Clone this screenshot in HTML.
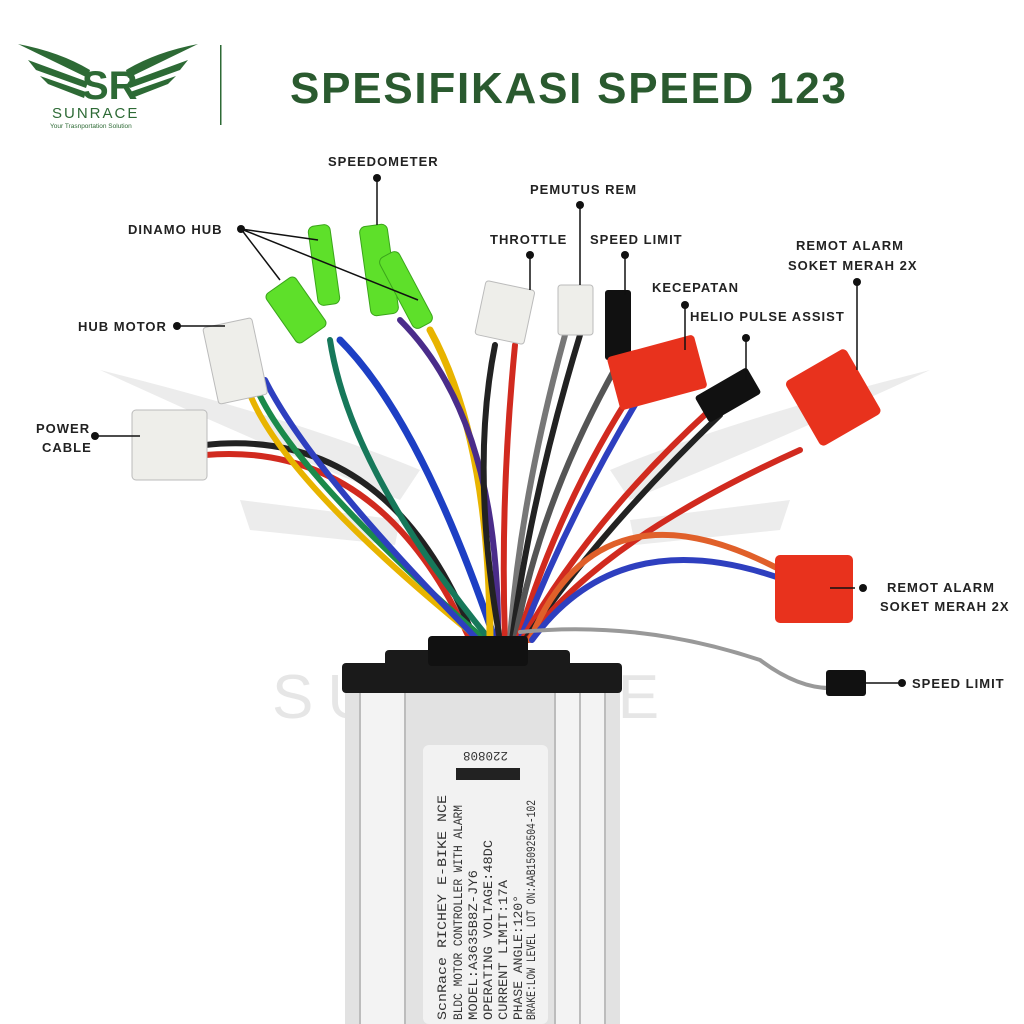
<!DOCTYPE html>
<html><head><meta charset="utf-8"><style>
html,body{margin:0;padding:0;background:#fff}
svg{display:block}
.l{font-family:"Liberation Sans",sans-serif;font-weight:bold;font-size:13px;fill:#222;letter-spacing:1px}
.m{font-family:"Liberation Mono",monospace;font-size:12.5px;fill:#333}
</style></head><body>
<svg width="1024" height="1024" viewBox="0 0 1024 1024" xmlns="http://www.w3.org/2000/svg">
<g fill="#ececec">
<path d="M100 370 Q300 420 420 470 L400 500 Q250 440 100 370Z"/>
<path d="M930 370 Q730 420 610 470 L630 500 Q780 440 930 370Z"/>
<path d="M240 500 L400 520 L395 545 L250 530Z"/>
<path d="M790 500 L630 520 L635 545 L780 530Z"/>
</g>
<text x="272" y="718" font-family="Liberation Sans,sans-serif" font-size="62" fill="#e6e6e6" letter-spacing="14">SUNRACE</text>
<g fill="#2d6a35">
<path d="M18 44 Q60 52 90 70 L88 78 Q55 62 18 44Z"/>
<path d="M28 60 L88 82 L86 88 L36 70Z"/>
<path d="M40 76 L86 92 L84 98 L48 84Z"/>
<path d="M198 44 Q156 52 126 70 L128 78 Q161 62 198 44Z"/>
<path d="M188 60 L128 82 L130 88 L180 70Z"/>
<path d="M176 76 L130 92 L132 98 L168 84Z"/>
</g>
<text x="82" y="99" font-family="Liberation Sans,sans-serif" font-weight="bold" font-size="40" fill="#2d6a35">SR</text>
<text x="52" y="118" font-family="Liberation Sans,sans-serif" font-size="15" fill="#2d6a35" letter-spacing="2">SUNRACE</text>
<text x="50" y="128" font-family="Liberation Sans,sans-serif" font-size="6.5" fill="#2d6a35">Your Trasnportation Solution</text>
<rect x="220" y="45" width="1.5" height="80" fill="#2d6a35"/>
<text x="290" y="103" font-family="Liberation Sans,sans-serif" font-weight="bold" font-size="44" fill="#2a5a2f" letter-spacing="2" textLength="558">SPESIFIKASI SPEED 123</text>

<g fill="none" stroke-width="6" stroke-linecap="round">
<path d="M205 455 Q380 440 470 640" stroke="#d12a1f"/>
<path d="M205 445 Q390 425 475 640" stroke="#222"/>
<path d="M245 380 Q270 470 480 640" stroke="#e8b400"/>
<path d="M255 385 Q290 470 485 640" stroke="#1b8a4a"/>
<path d="M265 380 Q310 470 478 640" stroke="#2e3fbf"/>
<path d="M330 340 Q350 470 490 640" stroke="#17785a"/>
<path d="M340 340 Q420 420 495 640" stroke="#1d3fc4" stroke-width="7"/>
<path d="M430 330 Q490 440 490 640" stroke="#e8b400" stroke-width="7"/>
<path d="M400 320 Q500 420 498 640" stroke="#4a2c8a"/>
<path d="M495 345 Q470 470 500 640" stroke="#222"/>
<path d="M515 345 Q500 500 505 640" stroke="#d12a1f"/>
<path d="M565 335 Q520 500 510 640" stroke="#777"/>
<path d="M580 335 Q530 500 512 640" stroke="#222"/>
<path d="M620 360 Q540 500 515 640" stroke="#555"/>
<path d="M640 380 Q560 500 518 640" stroke="#d12a1f"/>
<path d="M650 380 Q570 510 520 640" stroke="#2e3fbf"/>
<path d="M710 410 Q590 520 522 640" stroke="#d12a1f"/>
<path d="M720 415 Q600 530 525 640" stroke="#222"/>
<path d="M800 450 Q600 540 528 640" stroke="#d12a1f"/>
<path d="M790 575 Q600 470 530 640" stroke="#e0602a"/>
<path d="M785 580 Q620 520 532 640" stroke="#2e3fbf"/>
<path d="M520 632 Q640 620 760 660 Q800 690 835 688" stroke="#999" stroke-width="4"/>
</g>
<g stroke="#bbb" stroke-width="1">
<rect x="132" y="410" width="75" height="70" rx="4" fill="#eeeeea"/>
<rect x="210" y="322" width="50" height="78" rx="3" fill="#eeeeea" transform="rotate(-12 235 360)"/>
<rect x="480" y="285" width="50" height="55" rx="3" fill="#eeeeea" transform="rotate(12 505 312)"/>
<rect x="558" y="285" width="35" height="50" rx="3" fill="#eeeeea"/>
</g>
<g fill="#5ee02a" stroke="#3aa51a">
<rect x="278" y="280" width="36" height="60" rx="5" transform="rotate(-35 296 310)"/>
<rect x="313" y="225" width="22" height="80" rx="6" transform="rotate(-8 324 265)"/>
<rect x="365" y="225" width="28" height="90" rx="6" transform="rotate(-8 379 270)"/>
<rect x="395" y="250" width="22" height="80" rx="6" transform="rotate(-28 406 290)"/>
</g>
<g fill="#111">
<rect x="605" y="290" width="26" height="70" rx="3"/>
<rect x="698" y="380" width="60" height="30" rx="3" transform="rotate(-30 728 395)"/>
<rect x="826" y="670" width="40" height="26" rx="3"/>
</g>
<g fill="#e8321d">
<rect x="612" y="345" width="90" height="55" rx="4" transform="rotate(-15 657 372)"/>
<rect x="798" y="360" width="70" height="75" rx="5" transform="rotate(-30 833 397)"/>
<rect x="775" y="555" width="78" height="68" rx="5"/>
</g>
<rect x="345" y="688" width="275" height="336" fill="#e2e2e2"/>
<g fill="#f3f3f3"><rect x="360" y="690" width="45" height="334"/><rect x="555" y="690" width="50" height="334"/></g>
<g stroke="#bcbcbc" stroke-width="2"><line x1="360" y1="690" x2="360" y2="1024"/><line x1="405" y1="690" x2="405" y2="1024"/><line x1="555" y1="690" x2="555" y2="1024"/><line x1="580" y1="690" x2="580" y2="1024"/><line x1="605" y1="690" x2="605" y2="1024"/></g>
<rect x="342" y="663" width="280" height="30" rx="4" fill="#1a1a1a"/>
<rect x="385" y="650" width="185" height="20" rx="4" fill="#1a1a1a"/>
<rect x="428" y="636" width="100" height="30" rx="4" fill="#111"/>
<rect x="423" y="745" width="125" height="279" rx="6" fill="#f2f2f2"/>
<text class="m" transform="translate(508 752) rotate(180)">220808</text>
<rect x="456" y="768" width="64" height="12" fill="#222"/>
<text class="m" font-size="15" textLength="225" lengthAdjust="spacingAndGlyphs" transform="translate(446 1020) rotate(-90)">ScnRace  RICHEY E-BIKE NCE</text>
<text class="m" textLength="215" lengthAdjust="spacingAndGlyphs" transform="translate(462 1020) rotate(-90)">BLDC MOTOR CONTROLLER WITH ALARM</text>
<text class="m" font-size="14" textLength="150" lengthAdjust="spacingAndGlyphs" transform="translate(477 1020) rotate(-90)">MODEL:A3635B8Z-JY6</text>
<text class="m" font-size="14" textLength="180" lengthAdjust="spacingAndGlyphs" transform="translate(492 1020) rotate(-90)">OPERATING VOLTAGE:48DC</text>
<text class="m" font-size="14" textLength="140" lengthAdjust="spacingAndGlyphs" transform="translate(507 1020) rotate(-90)">CURRENT LIMIT:17A</text>
<text class="m" font-size="14" textLength="125" lengthAdjust="spacingAndGlyphs" transform="translate(522 1020) rotate(-90)">PHASE ANGLE:120°</text>
<text class="m" font-size="11" textLength="220" lengthAdjust="spacingAndGlyphs" transform="translate(535 1020) rotate(-90)">BRAKE:LOW LEVEL LOT ON:AAB15092504-102</text>
<g stroke="#111" stroke-width="1.5" fill="none">
<path d="M241 229 L318 240 M241 229 L280 280 M241 229 L418 300"/>
<path d="M377 178 L377 225"/>
<path d="M580 205 L580 285"/>
<path d="M530 255 L530 290"/>
<path d="M625 255 L625 295"/>
<path d="M685 305 L685 350"/>
<path d="M746 338 L746 380"/>
<path d="M857 282 L857 370"/>
<path d="M177 326 L225 326"/>
<path d="M95 436 L140 436"/>
<path d="M855 588 L830 588"/>
<path d="M902 683 L860 683"/>
</g>
<g fill="#111">
<circle cx="241" cy="229" r="4"/><circle cx="377" cy="178" r="4"/><circle cx="580" cy="205" r="4"/>
<circle cx="530" cy="255" r="4"/><circle cx="625" cy="255" r="4"/><circle cx="685" cy="305" r="4"/>
<circle cx="746" cy="338" r="4"/><circle cx="857" cy="282" r="4"/><circle cx="177" cy="326" r="4"/>
<circle cx="95" cy="436" r="4"/><circle cx="863" cy="588" r="4"/><circle cx="902" cy="683" r="4"/>
</g>
<text class="l" x="128" y="234">DINAMO HUB</text>
<text class="l" x="328" y="166">SPEEDOMETER</text>
<text class="l" x="530" y="194">PEMUTUS REM</text>
<text class="l" x="490" y="244">THROTTLE</text>
<text class="l" x="590" y="244">SPEED LIMIT</text>
<text class="l" x="652" y="292">KECEPATAN</text>
<text class="l" x="690" y="321">HELIO PULSE ASSIST</text>
<text class="l" x="796" y="250">REMOT ALARM</text>
<text class="l" x="788" y="270">SOKET MERAH 2X</text>
<text class="l" x="78" y="331">HUB MOTOR</text>
<text class="l" x="36" y="433">POWER</text>
<text class="l" x="42" y="452">CABLE</text>
<text class="l" x="887" y="592">REMOT ALARM</text>
<text class="l" x="880" y="611">SOKET MERAH 2X</text>
<text class="l" x="912" y="688">SPEED LIMIT</text>
</svg>
</body></html>
